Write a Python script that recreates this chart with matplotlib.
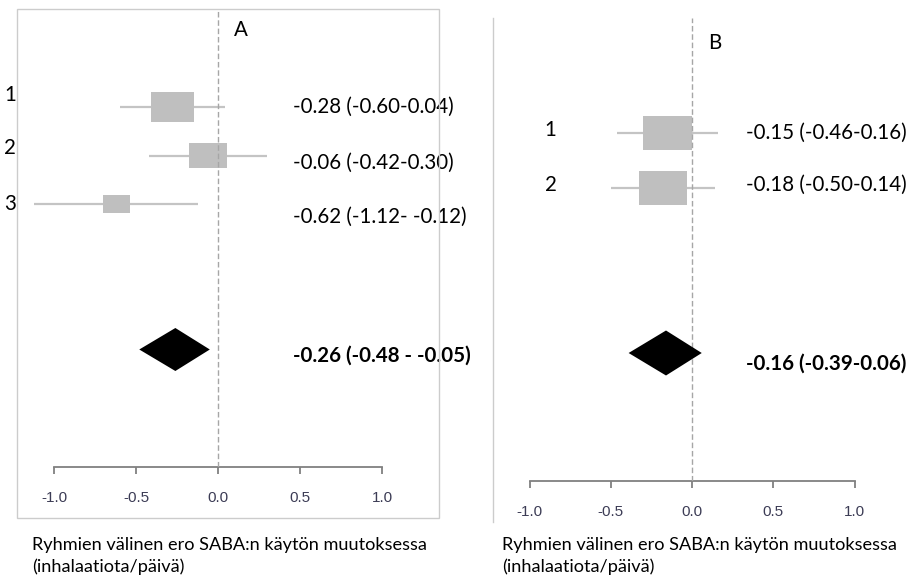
import matplotlib.pyplot as plt
from matplotlib.patches import Rectangle, Polygon
from matplotlib.lines import Line2D

# panel A: three studies + pooled estimate
studies_A = ["1", "2", "3"]
est_A = [-0.28, -0.06, -0.62]
lo_A = [-0.60, -0.42, -1.12]
hi_A = [0.04, 0.30, -0.12]
weight_A = [0.40, 0.35, 0.25]
labels_A = ["-0.28 (-0.60-0.04)", "-0.06 (-0.42-0.30)", "-0.62 (-1.12- -0.12)"]
pooled_A = (-0.26, -0.48, -0.05)
pooled_label_A = "-0.26 (-0.48 - -0.05)"

# panel B: two studies + pooled estimate
studies_B = ["1", "2"]
est_B = [-0.15, -0.18]
lo_B = [-0.46, -0.50]
hi_B = [0.16, 0.14]
weight_B = [0.505, 0.495]
labels_B = ["-0.15 (-0.46-0.16)", "-0.18 (-0.50-0.14)"]
pooled_B = (-0.16, -0.39, 0.06)
pooled_label_B = "-0.16 (-0.39-0.06)"

ticks = [-1.0, -0.5, 0.0, 0.5, 1.0]
xlabel_lines = ["Ryhmien välinen ero SABA:n käytön muutoksessa", "(inhalaatiota/päivä)"]

W, H = 909, 578
FONT = "Lato"
FS = 14.8
BOX = "#bfbfbf"
CI = "#c4c4c4"
FRAME = "#cccccc"

fig = plt.figure(figsize=(W / 100, H / 100), dpi=100)


def px_axes(x0, y0, x1, y1):
    # pixel box (top-left origin) -> figure fraction axes
    return fig.add_axes([x0 / W, 1 - y1 / H, (x1 - x0) / W, (y1 - y0) / H])


def forest(ax, est, lo, hi, weight, rows, pooled, prow, box_scale, dia_half_px):
    bb = ax.get_window_extent()
    x0, x1 = ax.get_xlim()
    y0, y1 = ax.get_ylim()
    px_x = bb.width / abs(x1 - x0)
    px_y = bb.height / abs(y1 - y0)
    ax.axvline(0, color="#a6a6a6", lw=1.0, ls=(0, (4, 2)), zorder=3)
    for e, l, h, w, r in zip(est, lo, hi, weight, rows):
        ax.plot([l, h], [r, r], color=CI, lw=1.6, zorder=1, solid_capstyle="butt")
        bw = w * box_scale
        bh = bw * px_x * 0.69 / px_y
        ax.add_patch(Rectangle((e - bw / 2, r - bh / 2), bw, bh,
                               facecolor=BOX, edgecolor="none", zorder=2))
    pe, pl, ph = pooled
    dh = dia_half_px / px_y
    ax.add_patch(Polygon([(pl, prow), (pe, prow - dh), (ph, prow), (pe, prow + dh)],
                         closed=True, facecolor="black", edgecolor="none", zorder=4))
    for s in ["left", "right", "top"]:
        ax.spines[s].set_visible(False)
    ax.spines["bottom"].set_bounds(-1, 1)
    ax.spines["bottom"].set_color("#808080")
    ax.spines["bottom"].set_linewidth(1.3)
    ax.set_xticks(ticks)
    ax.set_xticklabels([f"{t:.1f}" for t in ticks], fontfamily="Liberation Sans",
                       fontsize=11, color="#3c3c55")
    ax.tick_params(axis="x", direction="out", length=5, width=1.3, color="#808080", pad=12)
    ax.set_yticks([])
    ax.patch.set_alpha(0)


def axis_caption(x_px):
    for line, y_px in zip(xlabel_lines, [545, 567]):
        fig.text(x_px / W, 1 - y_px / H, line, ha="left", va="center",
                 fontsize=13.1, fontfamily=FONT)


# ---- panel A ----
fig.patches.append(Rectangle((17 / W, 1 - 518 / H), 422 / W, 509 / H,
                             transform=fig.transFigure, fill=False,
                             edgecolor=FRAME, lw=1.0))
axA = px_axes(17, 9, 439, 467)
axA.set_xlim((17 - 218) / 164, (439 - 218) / 164)
axA.set_ylim(1 + (467 - 107) / 48.5, 1 - (107 - 9) / 48.5)
rowsA = [1, 2, 3]
forest(axA, est_A, lo_A, hi_A, weight_A, rowsA, pooled_A, 6, 0.655, 21.5)

for s, r, dy in zip(studies_A, rowsA, [-0.25, -0.16, 0.0]):
    axA.text(-1.268, r + dy, s, ha="center", va="center", fontsize=FS,
             fontfamily=FONT, clip_on=False)
for lab, r, dy in zip(labels_A, rowsA, [0.0, 0.15, 0.27]):
    axA.text(0.457, r + dy, lab, ha="left", va="center", fontsize=FS, fontfamily=FONT)
axA.text(0.457, 6.13, pooled_label_A, ha="left", va="center", fontsize=FS,
         fontweight="bold", fontfamily=FONT)
axA.text(0.14, -0.59, "A", ha="center", va="center", fontsize=FS, fontfamily=FONT)
axis_caption(32)

# ---- panel B ----
fig.lines.append(Line2D([493 / W, 493 / W], [1 - 18 / H, 1 - 522 / H],
                        transform=fig.transFigure, color=FRAME, lw=1.0))
axB = px_axes(493, 18, 909, 481)
axB.set_xlim((493 - 692) / 162.5, (909 - 692) / 162.5)
axB.set_ylim(1 + (481 - 133) / 55, 1 - (133 - 18) / 55)
rowsB = [1, 2]
forest(axB, est_B, lo_B, hi_B, weight_B, rowsB, pooled_B, 5, 0.60, 22.5)

for s, r in zip(studies_B, rowsB):
    axB.text(-0.87, r - 0.05, s, ha="center", va="center", fontsize=FS, fontfamily=FONT)
for lab, r, dy in zip(labels_B, rowsB, [0.0, -0.05]):
    axB.text(0.332, r + dy, lab, ha="left", va="center", fontsize=FS, fontfamily=FONT)
axB.text(0.332, 5.2, pooled_label_B, ha="left", va="center", fontsize=FS,
         fontweight="bold", fontfamily=FONT)
axB.text(0.14, -0.64, "B", ha="center", va="center", fontsize=FS, fontfamily=FONT)
axis_caption(502)

fig.savefig("out.png", dpi=100, facecolor="white")
